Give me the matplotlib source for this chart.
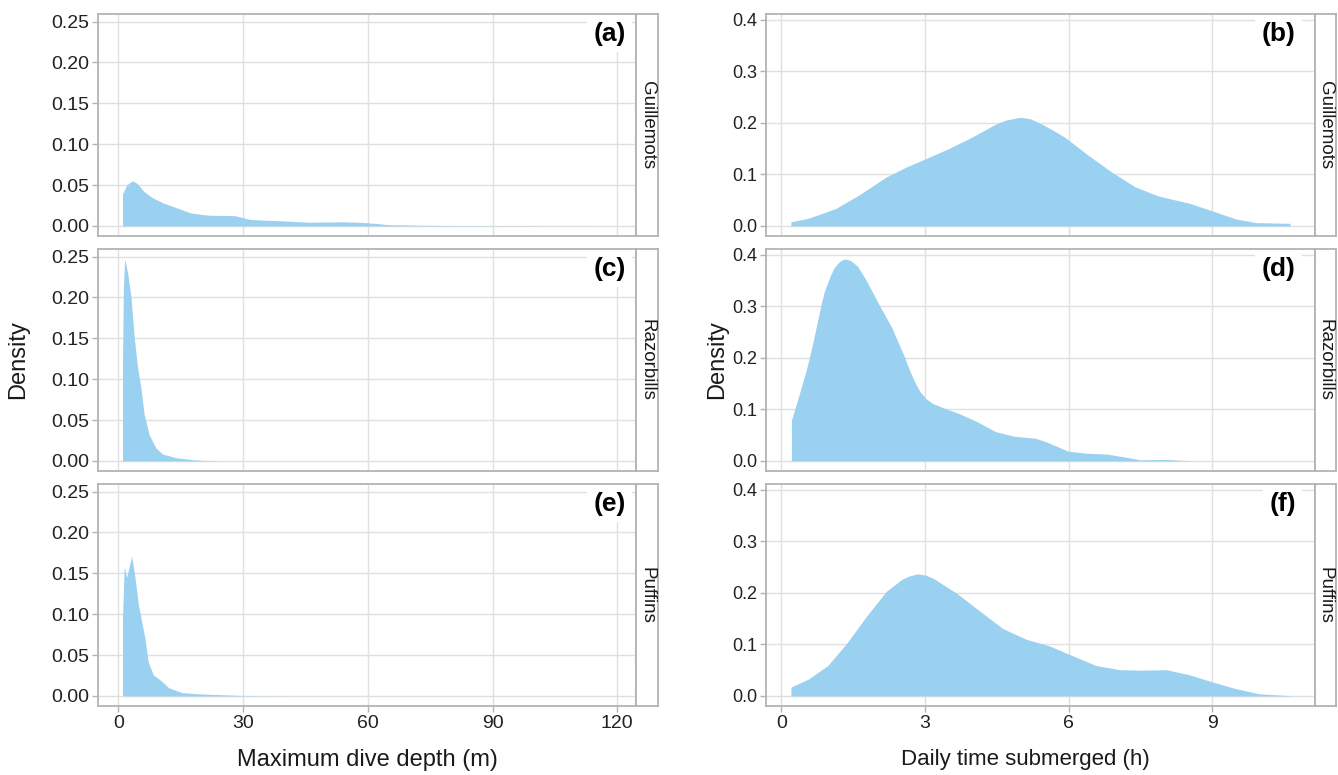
import matplotlib
matplotlib.use("Agg")
import matplotlib.pyplot as plt

plt.rcParams["font.family"] = ["Liberation Sans", "DejaVu Sans"]

# valeurs (densités)
species = ["Guillemots", "Razorbills", "Puffins"]
panel_labels = [["(a)", "(c)", "(e)"], ["(b)", "(d)", "(f)"]]

# profondeur maximale (m)
depth_x_guillemots = [1.0, 2.0, 3.0, 3.5, 4.5, 6.0, 7.2, 8.4, 10.8, 14.1, 17.3, 20, 22, 26,
                      28, 31.6, 35, 38, 46, 54, 58.6, 62, 65, 72, 82, 118.6]
depth_y_guillemots = [0.039, 0.050, 0.054, 0.055, 0.052, 0.043, 0.038, 0.034, 0.028, 0.022,
                      0.016, 0.014, 0.013, 0.0128, 0.0125, 0.008, 0.007, 0.0065, 0.0045,
                      0.005, 0.0043, 0.003, 0.0015, 0.0008, 0.0003, 0.0]
depth_x_razorbills = [1.0, 1.2, 1.5, 2.2, 3.0, 3.8, 4.6, 5.4, 6.2, 7.4, 9.0, 10.6, 13.8,
                      17.8, 21, 25]
depth_y_razorbills = [0.12, 0.21, 0.247, 0.231, 0.202, 0.152, 0.115, 0.090, 0.057, 0.032,
                      0.016, 0.0085, 0.004, 0.0015, 0.0005, 0.0]
depth_x_puffins = [1.0, 1.4, 2.0, 3.2, 4.0, 4.8, 5.6, 6.4, 7.2, 8.4, 10.4, 12.1, 15.3,
                   19.3, 24.2, 30, 40]
depth_y_puffins = [0.095, 0.158, 0.145, 0.171, 0.145, 0.112, 0.091, 0.070, 0.041, 0.026,
                   0.018, 0.010, 0.004, 0.0025, 0.0015, 0.0005, 0.0]

# temps journalier sous l'eau (h)
time_x_guillemots = [0.2, 0.57, 1.14, 1.62, 2.19, 2.6, 3.0, 3.49, 3.97, 4.46, 4.7, 4.99,
                     5.2, 5.43, 5.65, 5.92, 6.41, 6.89, 7.38, 7.87, 8.52, 9.0, 9.49, 9.9,
                     10.62]
time_y_guillemots = [0.008, 0.015, 0.034, 0.060, 0.095, 0.114, 0.130, 0.150, 0.172, 0.197,
                     0.206, 0.211, 0.208, 0.198, 0.187, 0.172, 0.137, 0.105, 0.076, 0.058,
                     0.044, 0.029, 0.0135, 0.0064, 0.005]
time_x_razorbills = [0.21, 0.36, 0.52, 0.67, 0.82, 0.9, 1.01, 1.1, 1.2, 1.28, 1.35, 1.45,
                     1.58, 1.7, 1.81, 2.03, 2.3, 2.57, 2.68, 2.79, 2.9, 3.02, 3.15, 3.33,
                     3.71, 4.09, 4.47, 4.85, 5.3, 5.53, 5.76, 5.98, 6.36, 6.82, 7.2, 7.5,
                     8.03, 8.53]
time_y_razorbills = [0.079, 0.125, 0.176, 0.234, 0.300, 0.330, 0.357, 0.375, 0.386, 0.391,
                     0.392, 0.389, 0.379, 0.362, 0.344, 0.305, 0.260, 0.202, 0.175, 0.152,
                     0.134, 0.121, 0.112, 0.105, 0.092, 0.076, 0.057, 0.048, 0.044, 0.037,
                     0.028, 0.019, 0.015, 0.013, 0.007, 0.002, 0.003, 0.0]
time_x_puffins = [0.2, 0.57, 0.97, 1.38, 1.78, 2.19, 2.51, 2.67, 2.84, 3.0, 3.16, 3.65,
                  4.14, 4.62, 5.11, 5.6, 6.08, 6.57, 7.06, 7.54, 8.03, 8.52, 9.0, 9.49,
                  9.98, 10.62]
time_y_puffins = [0.017, 0.033, 0.059, 0.104, 0.155, 0.203, 0.226, 0.233, 0.237, 0.235,
                  0.229, 0.200, 0.165, 0.131, 0.110, 0.097, 0.078, 0.059, 0.051, 0.050,
                  0.051, 0.041, 0.027, 0.014, 0.004, 0.0005]

depth_series = [(depth_x_guillemots, depth_y_guillemots),
                (depth_x_razorbills, depth_y_razorbills),
                (depth_x_puffins, depth_y_puffins)]
time_series = [(time_x_guillemots, time_y_guillemots),
               (time_x_razorbills, time_y_razorbills),
               (time_x_puffins, time_y_puffins)]

depth_ticks = [0, 30, 60, 90, 120]
depth_yticks = [0.00, 0.05, 0.10, 0.15, 0.20, 0.25]
time_ticks = [0, 3, 6, 9]
time_yticks = [0.0, 0.1, 0.2, 0.3, 0.4]

fill_col = "#9AD0F0"
border_col = "#B3B3B3"
grid_col = "#E0E0E0"

W, H = 1338, 775
fig = plt.figure(figsize=(W / 100, H / 100), dpi=100)

columns = [
    dict(left=98, right=636, strip=658, series=depth_series, xlim=(-4.9, 124.5),
         ylim=(-0.01235, 0.2593), xticks=depth_ticks, yticks=depth_yticks, yfmt="{:.2f}",
         xlabel="Maximum dive depth (m)", xlab_x=367, xlab_size=17, tick_size=14,
         lab_x=0.981, ylab_x=18),
    dict(left=766, right=1315, strip=1336, series=time_series, xlim=(-0.32, 11.14),
         ylim=(-0.0196, 0.4116), xticks=time_ticks, yticks=time_yticks, yfmt="{:.1f}",
         xlabel="Daily time submerged (h)", xlab_x=1025, xlab_size=16, tick_size=13,
         lab_x=0.965, ylab_x=717),
]
row_tops = [14, 249, 484]
row_h = 222

for ci, col in enumerate(columns):
    for ri, top in enumerate(row_tops):
        bottom = 1 - (top + row_h) / H
        ax = fig.add_axes([col["left"] / W, bottom, (col["right"] - col["left"]) / W, row_h / H])
        xs, ys = col["series"][ri]
        ax.fill_between(xs, ys, 0, color=fill_col, linewidth=0, zorder=2)
        ax.set_xlim(col["xlim"])
        ax.set_ylim(col["ylim"])
        ax.set_xticks(col["xticks"])
        ax.set_yticks(col["yticks"])
        ax.set_yticklabels([col["yfmt"].format(v) for v in col["yticks"]])
        ax.grid(True, color=grid_col, linewidth=1.0, zorder=0)
        ax.set_axisbelow(True)
        for s in ax.spines.values():
            s.set_color(border_col)
            s.set_linewidth(1.3)
        ax.tick_params(axis="both", colors=border_col, length=4, width=1,
                       labelcolor="#222222", labelsize=col["tick_size"], pad=2.5)
        ax.tick_params(axis="x", labelsize=14)
        if ri < 2:
            ax.tick_params(axis="x", length=0, labelbottom=False)
        else:
            ax.set_xticklabels([str(t) for t in col["xticks"]])
        ax.text(col["lab_x"], 0.965, panel_labels[ci][ri], transform=ax.transAxes,
                ha="right", va="top", fontsize=19, fontweight="bold", color="black",
                bbox=dict(boxstyle="square,pad=0.25", facecolor="white", edgecolor="none"),
                zorder=5)

        # bandeau de facette à droite
        sax = fig.add_axes([col["right"] / W, bottom, (col["strip"] - col["right"]) / W, row_h / H])
        sax.set_xticks([])
        sax.set_yticks([])
        sax.set_facecolor("white")
        for s in sax.spines.values():
            s.set_color(border_col)
            s.set_linewidth(1.3)
        sax.text(0.5, 0.5, species[ri], rotation=270, ha="center", va="center",
                 fontsize=13.5, color="#1a1a1a", transform=sax.transAxes)

    fig.text(col["xlab_x"] / W, 1 - 760 / H, col["xlabel"],
             ha="center", va="center", fontsize=col["xlab_size"], color="#1a1a1a")
    fig.text(col["ylab_x"] / W, 1 - 360 / H, "Density", rotation=90,
             ha="center", va="center", fontsize=17, color="#1a1a1a")

fig.savefig("out.png", dpi=100)
